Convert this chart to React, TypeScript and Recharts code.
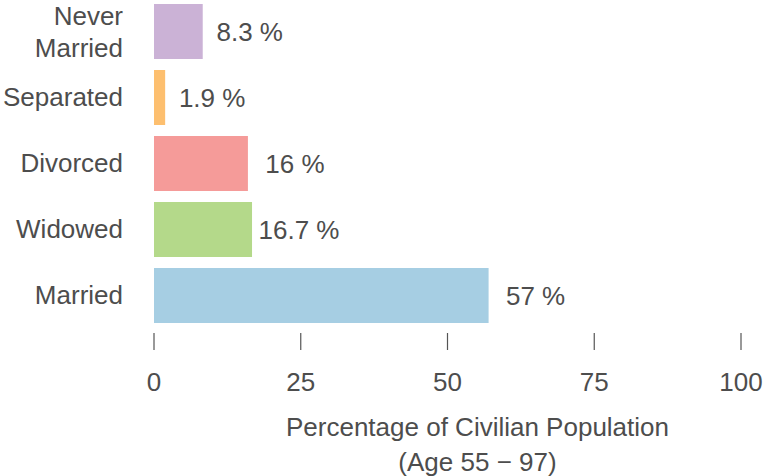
import { BarChart, Bar, XAxis, YAxis, Cell, LabelList, Label } from 'recharts'

const categories = ['Never Married', 'Separated', 'Divorced', 'Widowed', 'Married']
const percentages = [8.3, 1.9, 16, 16.7, 57]
const xTicks = [0, 25, 50, 75, 100]
const titleLines = ['Percentage of Civilian Population', '(Age 55 \u2212 97)']

const barColors = ['#cbb2d6', '#fdbf6f', '#f59b99', '#b4d98a', '#a6cee3']
const textColor = '#4d4d4d'
const fontFamily = '"Liberation Sans", Arial, sans-serif'
const fontSize = 26

const data = categories.map((name, i) => ({ name, value: percentages[i] }))

// category labels, long ones broken over two lines
const CategoryTick = ({ x, y, payload }: any) => {
  const words = String(payload.value).split(' ')
  const lines = words.length > 1 ? words : [payload.value]
  const first = lines.length > 1 ? -6.5 : 9
  return (
    <text x={x - 31} textAnchor="end" fill={textColor} fontSize={fontSize} fontFamily={fontFamily}>
      {lines.map((line: string, i: number) => (
        <tspan key={i} x={x - 31} y={y + first + i * 32.5}>
          {line}
        </tspan>
      ))}
    </text>
  )
}

// tick mark sits a little below the plot, number further down
const ValueTick = ({ x, y, payload }: any) => (
  <g>
    <line x1={x} x2={x} y1={y + 5} y2={y + 22} stroke="#555" strokeWidth={1.2} />
    <text x={x} y={y + 63} textAnchor="middle" fill={textColor} fontSize={fontSize} fontFamily={fontFamily}>
      {payload.value}
    </text>
  </g>
)

const AxisTitle = ({ viewBox }: any) => {
  const cx = viewBox.x + viewBox.width / 2 + 30
  return (
    <text textAnchor="middle" fill={textColor} fontSize={fontSize} fontFamily={fontFamily}>
      {titleLines.map((line, i) => (
        <tspan key={i} x={cx} y={viewBox.y + 108 + i * 35}>
          {line}
        </tspan>
      ))}
    </text>
  )
}

const ValueLabel = ({ x, y, width, height, value }: any) => (
  <text
    x={x + width + 47}
    y={y + height / 2 + 9}
    textAnchor="middle"
    fill={textColor}
    fontSize={fontSize}
    fontFamily={fontFamily}
  >
    {`${value} %`}
  </text>
)

export default function App() {
  return (
    <div style={{ position: 'absolute', left: 0, top: -2 }}>
      <BarChart
        width={763}
        height={478}
        data={data}
        layout="vertical"
        margin={{ top: 0, right: 22, bottom: 0, left: 0 }}
      >
        <XAxis
          type="number"
          domain={[0, 100]}
          ticks={xTicks}
          axisLine={false}
          tickLine={false}
          tickSize={0}
          tickMargin={0}
          height={148}
          tick={<ValueTick />}
          interval={0}
        >
          <Label content={<AxisTitle />} />
        </XAxis>
        <YAxis
          type="category"
          dataKey="name"
          width={154}
          axisLine={false}
          tickLine={false}
          tickSize={0}
          tickMargin={0}
          interval={0}
          tick={<CategoryTick />}
        />
        <Bar dataKey="value" barSize={55} isAnimationActive={false}>
          {data.map((d, i) => (
            <Cell key={d.name} fill={barColors[i]} />
          ))}
          <LabelList dataKey="value" content={<ValueLabel />} />
        </Bar>
      </BarChart>
    </div>
  )
}
